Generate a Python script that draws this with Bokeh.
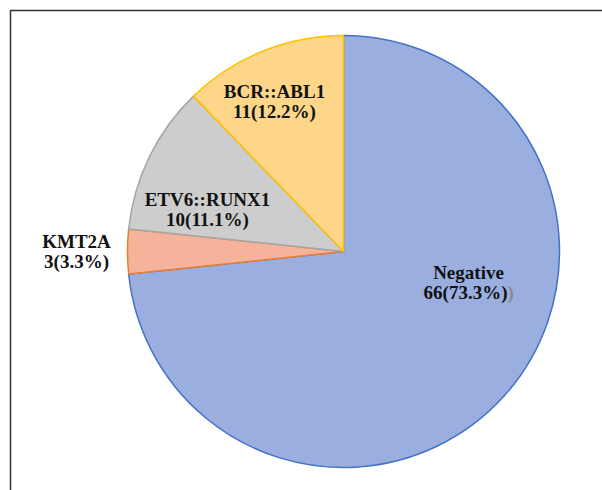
import math
from bokeh.plotting import figure
from bokeh.models import ColumnDataSource, BoxAnnotation, Range1d
from bokeh.core.properties import value
from bokeh.embed import file_html
from bokeh.resources import INLINE

# ---- data ----
categories = ["Negative", "KMT2A", "ETV6::RUNX1", "BCR::ABL1"]
counts = [66, 3, 10, 11]
fill_colors = ["#9aaee0", "#f5b39c", "#cdcdcd", "#fdd68a"]
line_colors = ["#4472c4", "#ed7d31", "#a5a5a5", "#ffc000"]

total = sum(counts)
pcts = [c / total * 100 for c in counts]

# ---- layout (pixel-like data space) ----
W, H = 602, 490
cx, cy, r = 343, H - 251, 216

starts, ends = [], []
acc = 0.0
for c in counts:
    a0 = math.pi / 2 - 2 * math.pi * acc / total
    acc += c
    a1 = math.pi / 2 - 2 * math.pi * acc / total
    starts.append(a0)
    ends.append(a1)

src = ColumnDataSource(dict(cat=categories, start=starts, end=ends,
                            fill=fill_colors, line=line_colors))

p = figure(width=W, height=H, output_backend="svg", toolbar_location=None,
           x_range=Range1d(0, W), y_range=Range1d(0, H), min_border=0)
p.axis.visible = False
p.grid.visible = False
p.outline_line_color = None
p.background_fill_color = "white"

p.wedge(x=cx, y=cy, radius=r, start_angle="start", end_angle="end",
        direction="clock", fill_color="fill", line_color="line",
        line_width=1.5, source=src)

# label placement (offsets from centre, in px), per category
label_pos = {
    "Negative": (125, -31),
    "KMT2A": (-267, 0),
    "ETV6::RUNX1": (-136, 42),
    "BCR::ABL1": (-69, 150),
}
line_gap = 20
fs = "19px"
font = value("Liberation Serif")
for cat, c, pc in zip(categories, counts, pcts):
    dx, dy = label_pos[cat]
    x, y = cx + dx, cy + dy
    p.text(x=[x], y=[y + line_gap / 2], text=[cat], text_font=font,
           text_font_style="bold", text_font_size=fs, text_color="#111111",
           text_align="center", text_baseline="middle")
    second = f"{c}({pc:.1f}%)"
    if cat == "Negative":
        xa = x + 39
        p.text(x=[xa], y=[y - line_gap / 2], text=[second], text_font=font,
               text_font_style="bold", text_font_size=fs, text_color="#111111",
               text_align="right", text_baseline="middle")
        p.text(x=[xa], y=[y - line_gap / 2], text=[")"], text_font=font,
               text_font_style="bold", text_font_size=fs, text_color="#8a8a8a",
               text_align="left", text_baseline="middle")
    else:
        p.text(x=[x], y=[y - line_gap / 2], text=[second], text_font=font,
               text_font_style="bold", text_font_size=fs, text_color="#111111",
               text_align="center", text_baseline="middle")

# frame border (left and top visible)
p.add_layout(BoxAnnotation(left=10, top=H - 10, right=W + 20, bottom=-20,
                           fill_alpha=0, line_color="#333333", line_alpha=1.0,
                           line_width=1.5))

open("out.html", "w").write(file_html(p, INLINE))
